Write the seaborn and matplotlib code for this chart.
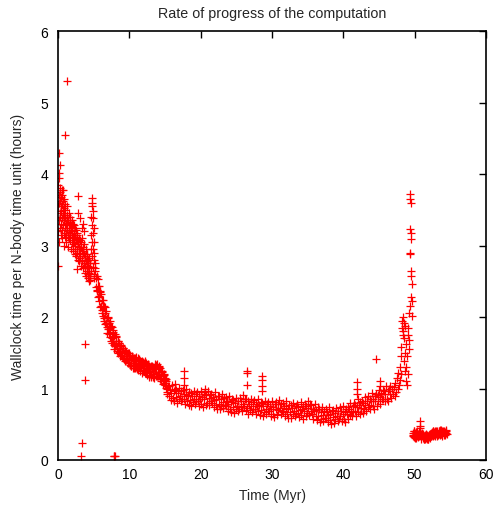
import matplotlib
matplotlib.use("Agg")
import matplotlib.pyplot as plt
import seaborn as sns
import pandas as pd

# early phase, 0 - 5.2 Myr
t_early = [0.00, 0.03, 0.05, 0.08, 0.10, 0.12, 0.15, 0.18, 0.20, 0.22,
           0.25, 0.28, 0.30, 0.33, 0.35, 0.38, 0.40, 0.43, 0.45, 0.48,
           0.50, 0.53, 0.55, 0.58, 0.60, 0.63, 0.65, 0.68, 0.70, 0.73,
           0.75, 0.78, 0.80, 0.83, 0.85, 0.88, 0.90, 0.93, 0.95, 0.98,
           1.00, 1.05, 1.10, 1.15, 1.20, 1.25, 1.30, 1.35, 1.40, 1.45,
           1.50, 1.55, 1.60, 1.65, 1.70, 1.75, 1.80, 1.85, 1.90, 1.95,
           2.00, 2.05, 2.10, 2.15, 2.20, 2.25, 2.30, 2.35, 2.40, 2.45,
           2.50, 2.55, 2.60, 2.65, 2.70, 2.75, 2.80, 2.85, 2.90, 2.95,
           3.00, 3.05, 3.10, 3.15, 3.20, 3.25, 3.30, 3.35, 3.40, 3.45,
           3.50, 3.55, 3.60, 3.65, 3.70, 3.75, 3.80, 3.85, 3.90, 3.95,
           4.00, 4.05, 4.10, 4.15, 4.20, 4.25, 4.30, 4.35, 4.40, 4.45,
           4.50, 4.55, 4.60, 4.62, 4.65, 4.68, 4.70, 4.72, 4.75, 4.78,
           4.80, 4.83, 4.85, 4.88, 4.90, 4.93, 4.95, 4.98, 5.00, 5.03,
           5.05, 5.08, 5.10, 5.15, 5.20]
rate_early = [3.85, 3.20, 3.55, 3.70, 3.95, 3.35, 3.60, 3.05, 4.02, 3.45,
              3.75, 3.25, 3.62, 3.40, 3.80, 3.15, 3.55, 3.30, 3.68, 3.48,
              3.78, 3.22, 3.58, 3.38, 3.70, 3.10, 3.50, 3.28, 3.62, 3.42,
              3.77, 3.18, 3.52, 3.35, 3.65, 3.00, 3.45, 3.25, 3.58, 3.38,
              3.12, 3.50, 3.30, 3.05, 3.42, 3.22, 3.55, 3.15, 3.35, 2.98,
              3.28, 3.45, 3.10, 3.30, 3.18, 3.40, 2.95, 3.22, 3.35, 3.05,
              3.25, 3.12, 3.30, 2.92, 3.18, 3.05, 3.28, 2.88, 3.12, 3.00,
              3.22, 2.85, 3.08, 2.95, 3.15, 2.80, 3.02, 3.45, 2.90, 3.10,
              2.78, 3.38, 2.95, 2.82, 3.05, 2.72, 2.92, 3.25, 2.80, 2.98,
              2.68, 3.30, 2.88, 2.75, 3.20, 2.62, 2.85, 2.70, 2.95, 2.58,
              2.78, 2.65, 2.88, 2.55, 2.72, 2.60, 2.82, 2.50, 2.68, 2.58,
              2.75, 2.52, 2.95, 3.15, 3.40, 2.65, 3.67, 3.55, 3.28, 2.85,
              3.05, 3.60, 3.38, 2.70, 3.18, 2.95, 3.48, 2.60, 3.25, 2.80,
              3.05, 2.55, 2.90, 2.68, 2.75]
t_early_b = [1.02, 1.12, 1.22, 1.32, 1.42, 1.52, 1.62, 1.72, 1.82, 1.92,
             2.02, 2.12, 2.22, 2.32, 2.42, 2.52, 2.62, 2.72, 2.82, 2.92,
             3.02, 3.12, 3.22, 3.32, 3.42, 3.52, 3.62, 3.72, 3.82, 3.92,
             4.02, 4.12, 4.22, 4.32, 4.42, 4.52]
rate_early_b = [3.38, 3.18, 3.32, 3.40, 3.12, 3.22, 3.35, 3.08, 3.28, 3.15,
                3.20, 3.02, 3.15, 3.25, 2.95, 3.08, 3.18, 2.90, 3.05, 2.98,
                3.08, 2.85, 2.98, 3.10, 2.78, 2.90, 3.02, 2.72, 2.85, 2.78,
                2.88, 2.68, 2.80, 2.62, 2.75, 2.55]

# steep decline, 5.2 - 15.4 Myr
t_decline = [5.25, 5.30, 5.35, 5.40, 5.45, 5.50, 5.55, 5.60, 5.65, 5.70,
             5.75, 5.80, 5.85, 5.90, 5.95, 6.00, 6.05, 6.10, 6.15, 6.20,
             6.25, 6.30, 6.35, 6.40, 6.45, 6.50, 6.55, 6.60, 6.65, 6.70,
             6.75, 6.80, 6.85, 6.90, 6.95, 7.00, 7.05, 7.10, 7.15, 7.20,
             7.25, 7.30, 7.35, 7.40, 7.45, 7.50, 7.55, 7.60, 7.65, 7.70,
             7.75, 7.80, 7.85, 7.90, 7.95, 8.00, 8.10, 8.20, 8.30, 8.40,
             8.50, 8.60, 8.70, 8.80, 8.90, 9.00, 9.10, 9.20, 9.30, 9.40,
             9.50, 9.60, 9.70, 9.80, 9.90, 10.0, 10.1, 10.2, 10.3, 10.4,
             10.5, 10.6, 10.7, 10.8, 10.9, 11.0, 11.1, 11.2, 11.3, 11.4,
             11.5, 11.6, 11.7, 11.8, 11.9, 12.0, 12.1, 12.2, 12.3, 12.4,
             12.5, 12.6, 12.7, 12.8, 12.9, 13.0, 13.1, 13.2, 13.3, 13.4,
             13.5, 13.6, 13.7, 13.8, 13.9, 14.0, 14.1, 14.2, 14.3, 14.4,
             14.5, 14.6, 14.7, 14.8, 14.9, 15.0, 15.1, 15.2, 15.3, 15.4]
rate_decline = [2.64, 2.42, 2.54, 2.36, 2.58, 2.38, 2.53, 2.28, 2.44, 2.30,
                2.44, 2.22, 2.35, 2.14, 2.36, 2.16, 2.32, 2.06, 2.24, 2.10,
                2.24, 2.02, 2.15, 1.94, 2.15, 1.98, 2.14, 1.90, 2.06, 1.92,
                2.08, 1.86, 1.98, 1.78, 2.00, 1.83, 1.99, 1.76, 1.92, 1.78,
                1.94, 1.72, 1.85, 1.66, 1.87, 1.71, 1.86, 1.63, 1.79, 1.66,
                1.82, 1.61, 1.73, 1.55, 1.76, 1.60, 1.72, 1.62, 1.53, 1.67,
                1.51, 1.64, 1.56, 1.47, 1.60, 1.45, 1.57, 1.50, 1.42, 1.54,
                1.40, 1.51, 1.45, 1.37, 1.49, 1.35, 1.46, 1.40, 1.32, 1.45,
                1.35, 1.43, 1.29, 1.41, 1.34, 1.44, 1.27, 1.38, 1.32, 1.41,
                1.26, 1.37, 1.30, 1.39, 1.24, 1.35, 1.28, 1.37, 1.22, 1.33,
                1.26, 1.34, 1.19, 1.30, 1.23, 1.31, 1.16, 1.27, 1.20, 1.29,
                1.15, 1.31, 1.22, 1.33, 1.17, 1.28, 1.20, 1.32, 1.13, 1.25,
                1.17, 1.23, 1.11, 1.19, 1.07, 1.15, 1.01, 1.10, 0.95, 1.04]
t_decline_b = [8.05, 8.15, 8.25, 8.35, 8.45, 8.55, 8.65, 8.75, 8.85, 8.95,
               9.05, 9.15, 9.25, 9.35, 9.45, 9.55, 9.65, 9.75, 9.85, 9.95,
               10.05, 10.15, 10.25, 10.35, 10.45, 10.55, 10.65, 10.75, 10.85, 10.95,
               11.05, 11.15, 11.25, 11.35, 11.45, 11.55, 11.65, 11.75, 11.85, 11.95,
               12.05, 12.15, 12.25, 12.35, 12.45, 12.55, 12.65, 12.75, 12.85, 12.95,
               13.05, 13.15, 13.25, 13.35, 13.45, 13.55, 13.65, 13.75, 13.85, 13.95,
               14.05, 14.15, 14.25, 14.35, 14.45, 14.55, 14.65, 14.75, 14.85, 14.95,
               15.05, 15.15, 15.25, 15.35]
rate_decline_b = [1.59, 1.73, 1.55, 1.67, 1.49, 1.63, 1.57, 1.46, 1.61, 1.52,
                  1.43, 1.56, 1.41, 1.53, 1.38, 1.51, 1.45, 1.35, 1.50, 1.42,
                  1.33, 1.47, 1.31, 1.44, 1.29, 1.43, 1.38, 1.28, 1.42, 1.36,
                  1.29, 1.42, 1.26, 1.40, 1.24, 1.38, 1.33, 1.22, 1.37, 1.31,
                  1.24, 1.38, 1.22, 1.35, 1.19, 1.32, 1.27, 1.16, 1.30, 1.24,
                  1.18, 1.31, 1.16, 1.30, 1.18, 1.34, 1.27, 1.17, 1.34, 1.23,
                  1.17, 1.30, 1.15, 1.28, 1.11, 1.24, 1.17, 1.06, 1.20, 1.12,
                  1.05, 1.13, 0.93, 1.00]

# long plateau, 15.5 - 46.9 Myr
t_plateau = [15.5, 15.6, 15.7, 15.8, 15.9, 16.0, 16.1, 16.2, 16.3, 16.4,
             16.5, 16.6, 16.7, 16.8, 16.9, 17.0, 17.1, 17.2, 17.3, 17.4,
             17.5, 17.6, 17.7, 17.8, 17.9, 18.0, 18.1, 18.2, 18.3, 18.4,
             18.5, 18.6, 18.7, 18.8, 18.9, 19.0, 19.1, 19.2, 19.3, 19.4,
             19.5, 19.6, 19.7, 19.8, 19.9, 20.0, 20.1, 20.2, 20.3, 20.4,
             20.5, 20.6, 20.7, 20.8, 20.9, 21.0, 21.1, 21.2, 21.3, 21.4,
             21.5, 21.6, 21.7, 21.8, 21.9, 22.0, 22.1, 22.2, 22.3, 22.4,
             22.5, 22.6, 22.7, 22.8, 22.9, 23.0, 23.1, 23.2, 23.3, 23.4,
             23.5, 23.6, 23.7, 23.8, 23.9, 24.0, 24.1, 24.2, 24.3, 24.4,
             24.5, 24.6, 24.7, 24.8, 24.9, 25.0, 25.1, 25.2, 25.3, 25.4,
             25.5, 25.6, 25.7, 25.8, 25.9, 26.0, 26.1, 26.2, 26.3, 26.4,
             26.5, 26.6, 26.7, 26.8, 26.9, 27.0, 27.1, 27.2, 27.3, 27.4,
             27.5, 27.6, 27.7, 27.8, 27.9, 28.0, 28.1, 28.2, 28.3, 28.4,
             28.5, 28.6, 28.7, 28.8, 28.9, 29.0, 29.1, 29.2, 29.3, 29.4,
             29.5, 29.6, 29.7, 29.8, 29.9, 30.0, 30.1, 30.2, 30.3, 30.4,
             30.5, 30.6, 30.7, 30.8, 30.9, 31.0, 31.1, 31.2, 31.3, 31.4,
             31.5, 31.6, 31.7, 31.8, 31.9, 32.0, 32.1, 32.2, 32.3, 32.4,
             32.5, 32.6, 32.7, 32.8, 32.9, 33.0, 33.1, 33.2, 33.3, 33.4,
             33.5, 33.6, 33.7, 33.8, 33.9, 34.0, 34.1, 34.2, 34.3, 34.4,
             34.5, 34.6, 34.7, 34.8, 34.9, 35.0, 35.1, 35.2, 35.3, 35.4,
             35.5, 35.6, 35.7, 35.8, 35.9, 36.0, 36.1, 36.2, 36.3, 36.4,
             36.5, 36.6, 36.7, 36.8, 36.9, 37.0, 37.1, 37.2, 37.3, 37.4,
             37.5, 37.6, 37.7, 37.8, 37.9, 38.0, 38.1, 38.2, 38.3, 38.4,
             38.5, 38.6, 38.7, 38.8, 38.9, 39.0, 39.1, 39.2, 39.3, 39.4,
             39.5, 39.6, 39.7, 39.8, 39.9, 40.0, 40.1, 40.2, 40.3, 40.4,
             40.5, 40.6, 40.7, 40.8, 40.9, 41.0, 41.1, 41.2, 41.3, 41.4,
             41.5, 41.6, 41.7, 41.8, 41.9, 42.0, 42.1, 42.2, 42.3, 42.4,
             42.5, 42.6, 42.7, 42.8, 42.9, 43.0, 43.1, 43.2, 43.3, 43.4,
             43.5, 43.6, 43.7, 43.8, 43.9, 44.0, 44.1, 44.2, 44.3, 44.4,
             44.5, 44.6, 44.7, 44.8, 44.9, 45.0, 45.1, 45.2, 45.3, 45.4,
             45.5, 45.6, 45.7, 45.8, 45.9, 46.0, 46.1, 46.2, 46.3, 46.4,
             46.5, 46.6, 46.7, 46.8, 46.9]
rate_plateau = [1.03, 0.90, 0.98, 0.84, 0.94, 1.05, 0.87, 0.96, 0.82, 1.00,
                0.88, 0.98, 0.80, 0.94, 0.85, 1.01, 0.90, 0.82, 0.96, 0.86,
                0.98, 0.85, 0.93, 0.79, 0.89, 1.00, 0.82, 0.91, 0.77, 0.95,
                0.84, 0.94, 0.76, 0.90, 0.81, 0.97, 0.86, 0.78, 0.92, 0.82,
                0.95, 0.82, 0.90, 0.76, 0.86, 0.97, 0.79, 0.88, 0.74, 0.92,
                0.85, 0.95, 0.77, 0.91, 0.80, 0.96, 0.87, 0.77, 0.91, 0.83,
                0.93, 0.80, 0.88, 0.74, 0.84, 0.95, 0.77, 0.86, 0.72, 0.90,
                0.79, 0.89, 0.71, 0.85, 0.76, 0.92, 0.81, 0.73, 0.87, 0.77,
                0.88, 0.75, 0.83, 0.69, 0.79, 0.90, 0.72, 0.81, 0.67, 0.85,
                0.74, 0.84, 0.66, 0.80, 0.71, 0.87, 0.76, 0.68, 0.82, 0.72,
                0.87, 0.74, 0.82, 0.68, 0.79, 0.91, 0.75, 0.85, 0.70, 0.86,
                0.73, 0.83, 0.65, 0.79, 0.70, 0.86, 0.75, 0.67, 0.81, 0.71,
                0.84, 0.71, 0.79, 0.65, 0.75, 0.86, 0.68, 0.77, 0.63, 0.81,
                0.70, 0.80, 0.62, 0.76, 0.67, 0.83, 0.72, 0.64, 0.78, 0.68,
                0.81, 0.68, 0.76, 0.62, 0.72, 0.83, 0.65, 0.74, 0.60, 0.78,
                0.71, 0.81, 0.63, 0.79, 0.70, 0.84, 0.73, 0.65, 0.79, 0.69,
                0.80, 0.67, 0.75, 0.61, 0.71, 0.82, 0.64, 0.73, 0.59, 0.77,
                0.67, 0.77, 0.59, 0.73, 0.64, 0.80, 0.69, 0.61, 0.75, 0.65,
                0.79, 0.66, 0.74, 0.60, 0.70, 0.81, 0.63, 0.72, 0.58, 0.76,
                0.69, 0.79, 0.61, 0.75, 0.66, 0.82, 0.73, 0.63, 0.79, 0.68,
                0.77, 0.64, 0.72, 0.58, 0.68, 0.79, 0.61, 0.70, 0.56, 0.74,
                0.61, 0.71, 0.53, 0.67, 0.58, 0.74, 0.63, 0.55, 0.69, 0.59,
                0.72, 0.59, 0.67, 0.53, 0.63, 0.74, 0.56, 0.65, 0.51, 0.69,
                0.60, 0.70, 0.52, 0.66, 0.57, 0.73, 0.62, 0.54, 0.68, 0.58,
                0.74, 0.61, 0.69, 0.55, 0.65, 0.76, 0.58, 0.67, 0.53, 0.71,
                0.64, 0.74, 0.57, 0.71, 0.63, 0.80, 0.69, 0.62, 0.76, 0.67,
                0.80, 0.68, 0.77, 0.62, 0.74, 0.85, 0.67, 0.77, 0.64, 0.81,
                0.73, 0.83, 0.66, 0.80, 0.71, 0.88, 0.77, 0.69, 0.83, 0.74,
                0.89, 0.77, 0.86, 0.72, 0.83, 0.94, 0.76, 0.86, 0.72, 0.90,
                0.83, 0.93, 0.76, 0.91, 0.82, 0.98, 0.88, 0.79, 0.94, 0.85,
                0.98, 0.86, 0.96, 0.82, 0.92, 1.04, 0.86, 0.96, 0.82, 1.00,
                0.93, 1.04, 0.87, 1.00, 0.92]

# rise and spike before the restart, 47 - 49.7 Myr
t_spike = [47.1, 47.2, 47.3, 47.4, 47.5, 47.6, 47.7, 47.8, 47.9, 48.0,
           48.05, 48.1, 48.15, 48.2, 48.25, 48.3, 48.35, 48.4, 48.45, 48.5,
           48.55, 48.6, 48.65, 48.7, 48.75, 48.8, 48.85, 48.9, 48.95, 49.0,
           49.05, 49.1, 49.15, 49.2, 49.25, 49.3, 49.32, 49.34, 49.36, 49.38,
           49.40, 49.42, 49.44, 49.46, 49.48, 49.50, 49.55, 49.60, 49.62, 49.65]
rate_spike = [1.02, 0.90, 1.08, 0.95, 1.15, 1.00, 1.22, 1.05, 1.30, 1.12,
              1.45, 1.20, 1.58, 1.85, 1.95, 1.75, 2.00, 1.80, 1.92, 1.70,
              1.38, 1.88, 1.25, 1.50, 1.10, 1.62, 1.30, 1.05, 1.45, 1.75,
              1.20, 1.85, 1.55, 2.05, 1.68, 2.15, 2.90, 3.72, 2.88, 3.23,
              3.65, 3.18, 2.65, 3.09, 3.60, 2.58, 2.28, 2.46, 2.02, 2.22]

# after the restart, 49.7 - 54.5 Myr
t_tail = [49.7, 49.8, 49.9, 50.0, 50.1, 50.2, 50.3, 50.4, 50.5, 50.6,
          50.7, 50.8, 50.9, 51.0, 51.1, 51.2, 51.3, 51.4, 51.5, 51.6,
          51.7, 51.8, 51.9, 52.0, 52.1, 52.2, 52.3, 52.4, 52.5, 52.6,
          52.7, 52.8, 52.9, 53.0, 53.1, 53.2, 53.3, 53.4, 53.5, 53.6,
          53.7, 53.8, 53.9, 54.0, 54.1, 54.2, 54.3, 54.4, 54.5]
rate_tail = [0.38, 0.33, 0.40, 0.35, 0.31, 0.39, 0.34, 0.37, 0.32, 0.40,
             0.35, 0.45, 0.33, 0.38, 0.31, 0.36, 0.30, 0.35, 0.29, 0.34,
             0.30, 0.33, 0.29, 0.35, 0.31, 0.37, 0.33, 0.39, 0.34, 0.40,
             0.35, 0.41, 0.36, 0.39, 0.34, 0.41, 0.36, 0.40, 0.35, 0.42,
             0.37, 0.40, 0.34, 0.41, 0.36, 0.39, 0.35, 0.40, 0.37]
t_tail_b = [49.75, 49.85, 49.95, 50.05, 50.15, 50.25, 50.35, 50.45, 50.55, 50.65,
            50.75, 50.85, 50.95, 51.05, 51.15, 51.25, 51.35, 51.45, 51.55, 51.65,
            51.75, 51.85, 51.95, 52.05, 52.15, 52.25, 52.35, 52.45, 52.55, 52.65,
            52.75, 52.85, 52.95, 53.05, 53.15, 53.25, 53.35, 53.45, 53.55, 53.65,
            53.75, 53.85, 53.95, 54.05, 54.15, 54.25, 54.35, 54.45]
rate_tail_b = [0.35, 0.41, 0.32, 0.38, 0.36, 0.31, 0.40, 0.35, 0.37, 0.33,
               0.39, 0.36, 0.30, 0.35, 0.33, 0.29, 0.34, 0.32, 0.36, 0.31,
               0.35, 0.30, 0.33, 0.32, 0.36, 0.34, 0.38, 0.36, 0.41, 0.37,
               0.39, 0.34, 0.40, 0.36, 0.38, 0.35, 0.41, 0.37, 0.39, 0.36,
               0.42, 0.37, 0.39, 0.35, 0.40, 0.37, 0.42, 0.38]

# stray points
t_stray = [0.05, 0.2, 0.3, 1.0, 1.3, 2.6, 2.85, 3.8, 3.8, 3.3, 3.2,
           7.85, 7.9, 7.95, 16.4, 17.7, 17.7, 17.7, 20.6, 26.45, 26.5,
           26.5, 28.55, 28.55, 28.55, 28.55, 41.9, 41.9, 41.9, 44.6,
           45.1, 45.1, 50.75, 50.8]
rate_stray = [2.72, 4.30, 4.13, 4.55, 5.30, 2.67, 3.69, 1.62, 1.12, 0.24, 0.06,
              0.06, 0.05, 0.06, 1.06, 1.25, 1.14, 1.05, 0.99, 1.24, 1.22,
              1.05, 1.17, 1.12, 1.04, 0.96, 1.09, 1.00, 0.93, 1.41,
              1.11, 1.04, 0.55, 0.47]

df = pd.DataFrame({
    "time": (t_early + t_early_b + t_decline + t_decline_b + t_plateau
             + t_spike + t_tail + t_tail_b + t_stray),
    "rate": (rate_early + rate_early_b + rate_decline + rate_decline_b + rate_plateau
             + rate_spike + rate_tail + rate_tail_b + rate_stray),
})

sns.set_style("white")
plt.rcParams["font.family"] = ["Liberation Sans", "DejaVu Sans"]

fig = plt.figure(figsize=(4.98, 5.06), dpi=100)
ax = fig.add_axes([58 / 498, 1 - 461 / 506, 428 / 498, 429 / 506])

sns.scatterplot(data=df, x="time", y="rate", marker="+", color="#ff0000",
                s=32, linewidth=0.9, ax=ax)
pts = ax.collections[0]
pts.set_facecolor("#ff0000")
pts.set_edgecolor("#ff0000")

ax.set_xlim(0, 60)
ax.set_ylim(0, 6)
ax.set_xticks(range(0, 61, 10))
ax.set_yticks(range(0, 7, 1))
ax.tick_params(direction="in", length=5, width=1, top=True, right=True,
               labelsize=10, colors="black")
ax.tick_params(axis="x", pad=5)
ax.tick_params(axis="y", pad=7)
for s in ax.spines.values():
    s.set_color("black")
    s.set_linewidth(1.2)

ax.set_title("Rate of progress of the computation", fontsize=10.3, pad=10)
ax.set_xlabel("Time (Myr)", fontsize=10, labelpad=5)
ax.set_ylabel("Wallclock time per N-body time unit (hours)", fontsize=10, labelpad=11)

fig.savefig("out.png", dpi=100)
